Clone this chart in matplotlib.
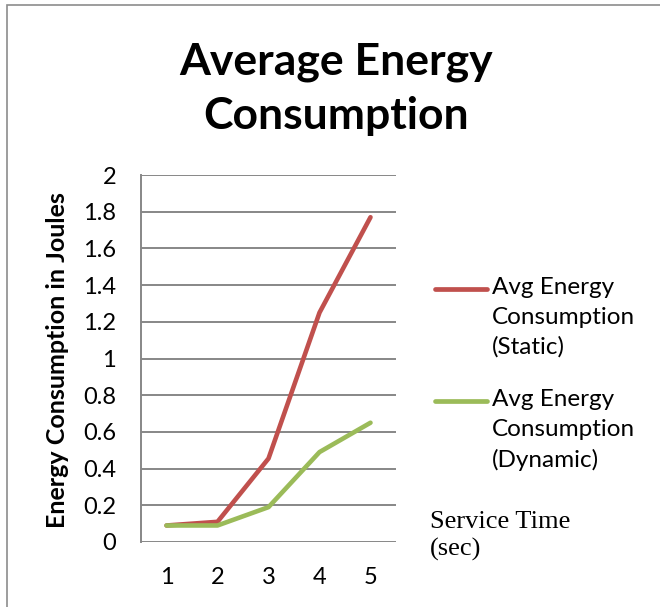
import matplotlib
matplotlib.use("Agg")
import matplotlib.pyplot as plt
from matplotlib.lines import Line2D
from matplotlib.patches import Rectangle

# service time categories and the two series
service_time = [1, 2, 3, 4, 5]
static_energy = [0.09, 0.11, 0.455, 1.25, 1.77]
dynamic_energy = [0.09, 0.09, 0.19, 0.49, 0.65]
y_ticks = [0, 0.2, 0.4, 0.6, 0.8, 1, 1.2, 1.4, 1.6, 1.8, 2]
y_tick_labels = ["0", "0.2", "0.4", "0.6", "0.8", "1", "1.2", "1.4", "1.6", "1.8", "2"]
series_names = ["Avg Energy\nConsumption\n(Static)", "Avg Energy\nConsumption\n(Dynamic)"]

RED = "#C0504D"
GREEN = "#9BBB59"
GRID = "#878787"

plt.rcParams['font.family'] = ['Lato', 'DejaVu Sans']

W, H = 660, 607
fig = plt.figure(figsize=(W / 100, H / 100), dpi=100)

# chart border
fig.add_artist(Rectangle((7 / W, -0.1), 1.2, 1 - 5 / H + 0.1, transform=fig.transFigure,
                         fill=False, edgecolor="#8c8c8c", linewidth=1.2))

ax = fig.add_axes([141 / W, 1 - 542 / H, 255 / W, (542 - 175) / H])
ax.plot(service_time, static_energy, color=RED, linewidth=3.3, solid_capstyle="round", zorder=3)
ax.plot(service_time, dynamic_energy, color=GREEN, linewidth=3.3, solid_capstyle="round", zorder=3)

ax.set_xlim(0.5, 5.5)
ax.set_ylim(0, 2)
ax.set_xticks(service_time)
ax.set_yticks(y_ticks)
ax.set_yticklabels(y_tick_labels)
ax.tick_params(axis="both", length=0, labelsize=17)
ax.tick_params(axis="y", pad=18)
ax.tick_params(axis="x", pad=18)
ax.grid(axis="y", color=GRID, linewidth=1.4)
ax.set_axisbelow(True)
for s in ["top", "right", "bottom"]:
    ax.spines[s].set_visible(False)
ax.spines["left"].set_color(GRID)
ax.spines["left"].set_linewidth(1.4)

fig.text(336 / W, 1 - 89 / H, "Average Energy\nConsumption", ha="center", va="center",
         fontsize=32, fontweight="bold", linespacing=1.45)

fig.text(58 / W, 1 - 360 / H, "Energy Consumption in Joules", rotation=90,
         ha="center", va="center", fontsize=18, fontweight="bold")

# hand-placed legend so each handle sits on the first text line
for name, color, y0 in [(series_names[0], RED, 289), (series_names[1], GREEN, 401)]:
    fig.add_artist(Line2D([435 / W, 487 / W], [1 - y0 / H, 1 - y0 / H], color=color,
                          linewidth=3.4, solid_capstyle="round", transform=fig.transFigure))
    fig.text(492 / W, 1 - (y0 - 12) / H, name, ha="left", va="top", fontsize=17.5, linespacing=1.5)

fig.text(430 / W, 1 - 511 / H, "Service Time\n(sec)", ha="left", va="top", fontsize=19,
         family=["Liberation Serif", "DejaVu Serif"], linespacing=1.3)

fig.savefig("out.png", dpi=100)
